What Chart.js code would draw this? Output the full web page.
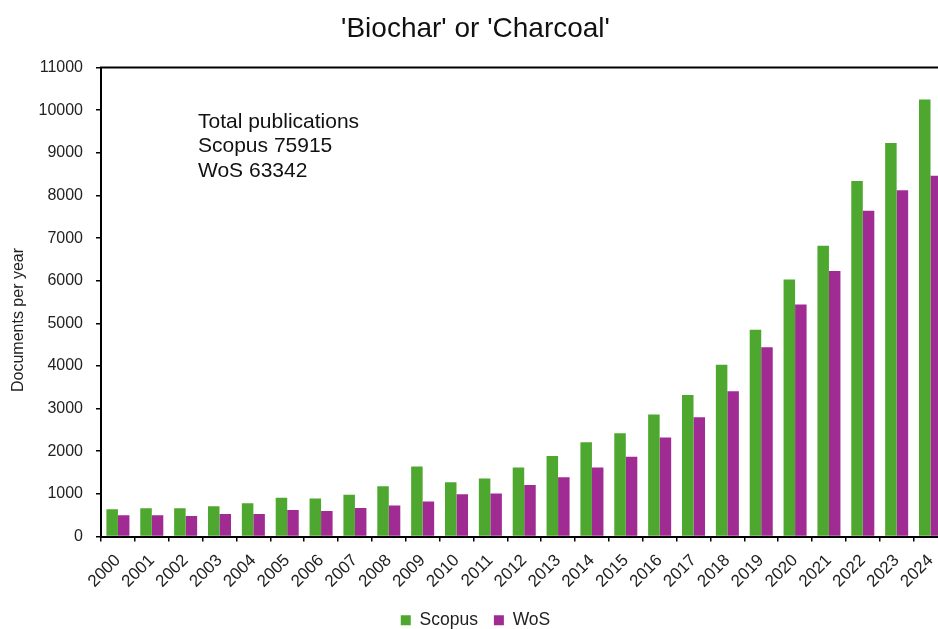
<!DOCTYPE html>
<html>
<head>
<meta charset="utf-8">
<script src="https://cdn.jsdelivr.net/npm/chart.js@4/dist/chart.umd.min.js"></script>
<style>
  html, body { margin: 0; padding: 0; background: #fff; overflow: hidden; width: 938px; height: 629px; }
  #wrap { width: 954px; height: 629px; }
</style>
</head>
<body>
<div id="wrap"><canvas id="c" width="954" height="629"></canvas></div>
<script>
const years = ['2000','2001','2002','2003','2004','2005','2006','2007','2008','2009','2010','2011','2012','2013','2014','2015','2016','2017','2018','2019','2020','2021','2022','2023','2024'];
const scopus = [640,660,660,710,780,910,890,980,1180,1640,1270,1360,1620,1890,2210,2420,2860,3320,4030,4850,6030,6820,8340,9230,10250];
const wos = [500,500,480,530,530,620,600,670,730,820,990,1010,1210,1390,1620,1870,2320,2800,3410,4440,5440,6230,7640,8120,8460];
const titleText = "'Biochar' or 'Charcoal'";
const yTitleText = 'Documents per year';
const noteLines = ['Total publications', 'Scopus 75915', 'WoS 63342'];

const FONT = "'Liberation Sans', Arial, sans-serif";
const TXT = '#222';

const extras = {
  id: 'extras',
  afterDraw(chart) {
    const ctx = chart.ctx;
    const a = chart.chartArea;
    ctx.save();
    // top frame line
    ctx.strokeStyle = '#000';
    ctx.lineWidth = 2;
    ctx.beginPath();
    ctx.moveTo(a.left - 1, a.top);
    ctx.lineTo(a.right + 5, a.top);
    ctx.stroke();
    // annotation
    ctx.fillStyle = '#111';
    ctx.font = '21px ' + FONT;
    ctx.textAlign = 'left';
    ctx.textBaseline = 'alphabetic';
    noteLines.forEach((t, i) => ctx.fillText(t, a.left + 97, a.top + 60 + i * 24.5));
    // y-axis title
    ctx.translate(19, 320);
    ctx.rotate(-Math.PI / 2);
    ctx.font = '16px ' + FONT;
    ctx.fillStyle = TXT;
    ctx.textAlign = 'center';
    ctx.textBaseline = 'middle';
    ctx.fillText(yTitleText, 0, 0);
    ctx.restore();
  }
};

new Chart(document.getElementById('c'), {
  type: 'bar',
  data: {
    labels: years,
    datasets: [
      { label: 'Scopus', data: scopus, backgroundColor: '#4EA72E', categoryPercentage: 0.68, barPercentage: 1.0 },
      { label: 'WoS', data: wos, backgroundColor: '#A02B93', categoryPercentage: 0.68, barPercentage: 1.0 }
    ]
  },
  options: {
    responsive: false,
    animation: false,
    devicePixelRatio: 1,
    layout: { padding: { left: 0, right: 3, top: 0, bottom: -10 } },
    plugins: {
      title: {
        display: true, text: titleText, color: '#111',
        font: { family: FONT, size: 28, weight: 'normal' },
        padding: { top: 12, bottom: 22 }
      },
      legend: {
        position: 'bottom',
        labels: {
          color: TXT, font: { family: FONT, size: 17.5 },
          boxWidth: 10, boxHeight: 10, padding: 16
        }
      },
      tooltip: { enabled: false }
    },
    scales: {
      x: {
        afterFit(scale) { scale.height = 59; },
        grid: { display: true, drawOnChartArea: false, drawTicks: true, tickLength: 5, color: '#000', lineWidth: 1.5, offset: true },
        border: { display: true, color: '#000', width: 2 },
        ticks: { color: TXT, font: { family: FONT, size: 17 }, maxRotation: 45, minRotation: 45, padding: 9, autoSkip: false }
      },
      y: {
        min: 0, max: 11000,
        afterFit(scale) { scale.width = 101; },
        grid: { display: true, drawOnChartArea: false, drawTicks: true, tickLength: 5, color: '#000', lineWidth: 1.5 },
        border: { display: true, color: '#000', width: 2 },
        ticks: { stepSize: 1000, color: TXT, font: { family: FONT, size: 16 }, padding: 13, callback: (v) => String(v) }
      }
    }
  },
  plugins: [extras]
});
</script>
</body>
</html>
